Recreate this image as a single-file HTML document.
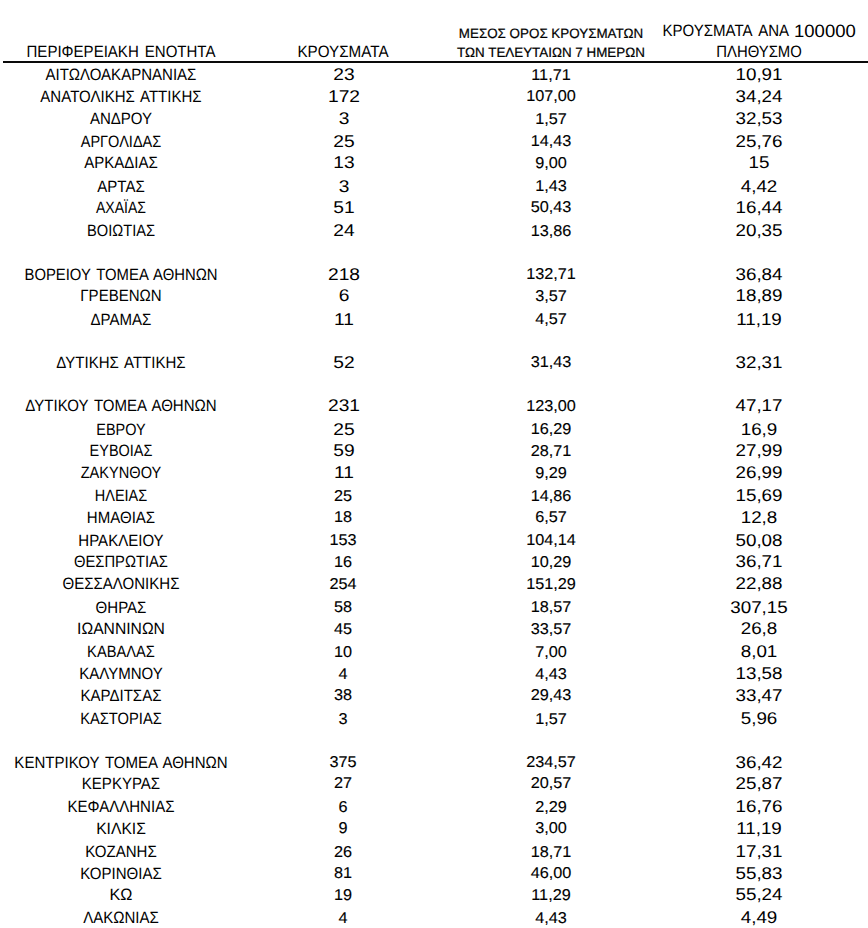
<!DOCTYPE html><html><head><meta charset="utf-8"><title>table</title><style>
html,body{margin:0;padding:0;background:#fff;}
body{width:868px;height:928px;position:relative;overflow:hidden;font-family:"Liberation Sans",sans-serif;color:#000;text-rendering:geometricPrecision;}
.t{position:absolute;white-space:nowrap;text-align:center;line-height:20px;height:20px;transform-origin:50% 50%;}
.a{left:0;width:242px;font-size:16.4px;transform:scaleX(.917);word-spacing:2px}
.bh{left:242.5px;width:200px;font-size:16.4px;transform:scaleX(.927);}
.b{left:243.5px;width:200px;font-size:17px;transform:scaleX(1.129);}
.b2{left:242.7px;width:200px;font-size:15.65px;transform:scaleX(1.039);-webkit-text-stroke:.12px #000}
.ch{left:451px;width:200px;font-size:13.6px;transform:scaleX(.985);-webkit-text-stroke:.2px #000}
.c{left:451px;width:200px;font-size:15.65px;transform:scaleX(1.039);-webkit-text-stroke:.12px #000}
.dh{left:659px;width:200px;font-size:16.4px;transform:scaleX(.907)}
.dl{right:79px;font-size:16.4px;transform:scaleX(.917);transform-origin:100% 50%;word-spacing:3.4px}
.dr{left:794.2px;font-size:17.8px;transform:scaleX(1.041);transform-origin:0 50%}
.d{left:659px;width:200px;font-size:17px;transform:scaleX(1.105);}
.rule{position:absolute;left:3px;top:60.8px;width:865px;height:2px;background:#0a0a0a;}
</style></head><body>
<div class="t a" style="top:42px">ΠΕΡΙΦΕΡΕΙΑΚΗ ΕΝΟΤΗΤΑ</div>
<div class="t bh" style="top:42px">ΚΡΟΥΣΜΑΤΑ</div>
<div class="t ch" style="top:24px">ΜΕΣΟΣ ΟΡΟΣ ΚΡΟΥΣΜΑΤΩΝ</div>
<div class="t ch" style="top:43px">ΤΩΝ ΤΕΛΕΥΤΑΙΩΝ 7 ΗΜΕΡΩΝ</div>
<div class="t dl" style="top:21px">ΚΡΟΥΣΜΑΤΑ ΑΝΑ</div><div class="t dr" style="top:21px">100000</div>
<div class="t dh" style="top:42px">ΠΛΗΘΥΣΜΟ</div>
<div class="rule"></div>
<div class="t a" style="top:65px">ΑΙΤΩΛΟΑΚΑΡΝΑΝΙΑΣ</div>
<div class="t b" style="top:65px">23</div>
<div class="t c" style="top:66px">11,71</div>
<div class="t d" style="top:65px">10,91</div>
<div class="t a" style="top:87px">ΑΝΑΤΟΛΙΚΗΣ ΑΤΤΙΚΗΣ</div>
<div class="t b" style="top:87px">172</div>
<div class="t c" style="top:87px">107,00</div>
<div class="t d" style="top:87px">34,24</div>
<div class="t a" style="top:109px">ΑΝΔΡΟΥ</div>
<div class="t b" style="top:109px">3</div>
<div class="t c" style="top:110px">1,57</div>
<div class="t d" style="top:109px">32,53</div>
<div class="t a" style="top:132px;transform:scaleX(0.886)">ΑΡΓΟΛΙΔΑΣ</div>
<div class="t b" style="top:132px">25</div>
<div class="t c" style="top:132px">14,43</div>
<div class="t d" style="top:132px">25,76</div>
<div class="t a" style="top:153px">ΑΡΚΑΔΙΑΣ</div>
<div class="t b" style="top:153px">13</div>
<div class="t c" style="top:154px">9,00</div>
<div class="t d" style="top:153px">15</div>
<div class="t a" style="top:177px">ΑΡΤΑΣ</div>
<div class="t b" style="top:177px">3</div>
<div class="t c" style="top:177px">1,43</div>
<div class="t d" style="top:177px">4,42</div>
<div class="t a" style="top:198px;transform:scaleX(0.856)">ΑΧΑΪΑΣ</div>
<div class="t b" style="top:198px">51</div>
<div class="t c" style="top:198px">50,43</div>
<div class="t d" style="top:198px">16,44</div>
<div class="t a" style="top:221px;transform:scaleX(0.895)">ΒΟΙΩΤΙΑΣ</div>
<div class="t b" style="top:221px">24</div>
<div class="t c" style="top:222px">13,86</div>
<div class="t d" style="top:221px">20,35</div>
<div class="t a" style="top:265px;transform:scaleX(0.906)">ΒΟΡΕΙΟΥ ΤΟΜΕΑ ΑΘΗΝΩΝ</div>
<div class="t b" style="top:265px">218</div>
<div class="t c" style="top:265px">132,71</div>
<div class="t d" style="top:265px">36,84</div>
<div class="t a" style="top:286px">ΓΡΕΒΕΝΩΝ</div>
<div class="t b" style="top:286px">6</div>
<div class="t c" style="top:287px">3,57</div>
<div class="t d" style="top:286px">18,89</div>
<div class="t a" style="top:310px">ΔΡΑΜΑΣ</div>
<div class="t b" style="top:310px">11</div>
<div class="t c" style="top:310px">4,57</div>
<div class="t d" style="top:310px">11,19</div>
<div class="t a" style="top:353px">ΔΥΤΙΚΗΣ ΑΤΤΙΚΗΣ</div>
<div class="t b" style="top:353px">52</div>
<div class="t c" style="top:353px">31,43</div>
<div class="t d" style="top:353px">32,31</div>
<div class="t a" style="top:396px">ΔΥΤΙΚΟΥ ΤΟΜΕΑ ΑΘΗΝΩΝ</div>
<div class="t b" style="top:396px">231</div>
<div class="t c" style="top:397px">123,00</div>
<div class="t d" style="top:396px">47,17</div>
<div class="t a" style="top:420px;transform:scaleX(0.882)">ΕΒΡΟΥ</div>
<div class="t b" style="top:420px">25</div>
<div class="t c" style="top:420px">16,29</div>
<div class="t d" style="top:420px">16,9</div>
<div class="t a" style="top:441px;transform:scaleX(0.883)">ΕΥΒΟΙΑΣ</div>
<div class="t b" style="top:441px">59</div>
<div class="t c" style="top:442px">28,71</div>
<div class="t d" style="top:441px">27,99</div>
<div class="t a" style="top:463px;transform:scaleX(0.891)">ΖΑΚΥΝΘΟΥ</div>
<div class="t b" style="top:463px">11</div>
<div class="t c" style="top:464px">9,29</div>
<div class="t d" style="top:463px">26,99</div>
<div class="t a" style="top:486px;transform:scaleX(0.884)">ΗΛΕΙΑΣ</div>
<div class="t b2" style="top:487px">25</div>
<div class="t c" style="top:487px">14,86</div>
<div class="t d" style="top:486px">15,69</div>
<div class="t a" style="top:508px">ΗΜΑΘΙΑΣ</div>
<div class="t b2" style="top:508px">18</div>
<div class="t c" style="top:508px">6,57</div>
<div class="t d" style="top:508px">12,8</div>
<div class="t a" style="top:531px">ΗΡΑΚΛΕΙΟΥ</div>
<div class="t b2" style="top:531px">153</div>
<div class="t c" style="top:531px">104,14</div>
<div class="t d" style="top:531px">50,08</div>
<div class="t a" style="top:552px;transform:scaleX(0.899)">ΘΕΣΠΡΩΤΙΑΣ</div>
<div class="t b2" style="top:553px">16</div>
<div class="t c" style="top:553px">10,29</div>
<div class="t d" style="top:552px">36,71</div>
<div class="t a" style="top:574px">ΘΕΣΣΑΛΟΝΙΚΗΣ</div>
<div class="t b2" style="top:575px">254</div>
<div class="t c" style="top:575px">151,29</div>
<div class="t d" style="top:574px">22,88</div>
<div class="t a" style="top:598px">ΘΗΡΑΣ</div>
<div class="t b2" style="top:598px">58</div>
<div class="t c" style="top:598px">18,57</div>
<div class="t d" style="top:598px">307,15</div>
<div class="t a" style="top:619px;transform:scaleX(0.956)">ΙΩΑΝΝΙΝΩΝ</div>
<div class="t b2" style="top:620px">45</div>
<div class="t c" style="top:620px">33,57</div>
<div class="t d" style="top:619px">26,8</div>
<div class="t a" style="top:642px;transform:scaleX(0.895)">ΚΑΒΑΛΑΣ</div>
<div class="t b2" style="top:643px">10</div>
<div class="t c" style="top:643px">7,00</div>
<div class="t d" style="top:642px">8,01</div>
<div class="t a" style="top:664px">ΚΑΛΥΜΝΟΥ</div>
<div class="t b2" style="top:665px">4</div>
<div class="t c" style="top:665px">4,43</div>
<div class="t d" style="top:664px">13,58</div>
<div class="t a" style="top:686px">ΚΑΡΔΙΤΣΑΣ</div>
<div class="t b2" style="top:686px">38</div>
<div class="t c" style="top:686px">29,43</div>
<div class="t d" style="top:686px">33,47</div>
<div class="t a" style="top:709px;transform:scaleX(0.897)">ΚΑΣΤΟΡΙΑΣ</div>
<div class="t b2" style="top:710px">3</div>
<div class="t c" style="top:710px">1,57</div>
<div class="t d" style="top:709px">5,96</div>
<div class="t a" style="top:753px">ΚΕΝΤΡΙΚΟΥ ΤΟΜΕΑ ΑΘΗΝΩΝ</div>
<div class="t b2" style="top:753px">375</div>
<div class="t c" style="top:753px">234,57</div>
<div class="t d" style="top:753px">36,42</div>
<div class="t a" style="top:774px">ΚΕΡΚΥΡΑΣ</div>
<div class="t b2" style="top:774px">27</div>
<div class="t c" style="top:774px">20,57</div>
<div class="t d" style="top:774px">25,87</div>
<div class="t a" style="top:797px">ΚΕΦΑΛΛΗΝΙΑΣ</div>
<div class="t b2" style="top:798px">6</div>
<div class="t c" style="top:798px">2,29</div>
<div class="t d" style="top:797px">16,76</div>
<div class="t a" style="top:819px;transform:scaleX(0.954)">ΚΙΛΚΙΣ</div>
<div class="t b2" style="top:819px">9</div>
<div class="t c" style="top:819px">3,00</div>
<div class="t d" style="top:819px">11,19</div>
<div class="t a" style="top:842px">ΚΟΖΑΝΗΣ</div>
<div class="t b2" style="top:843px">26</div>
<div class="t c" style="top:843px">18,71</div>
<div class="t d" style="top:842px">17,31</div>
<div class="t a" style="top:864px">ΚΟΡΙΝΘΙΑΣ</div>
<div class="t b2" style="top:864px">81</div>
<div class="t c" style="top:864px">46,00</div>
<div class="t d" style="top:864px">55,83</div>
<div class="t a" style="top:885px;transform:scaleX(0.990)">ΚΩ</div>
<div class="t b2" style="top:886px">19</div>
<div class="t c" style="top:886px">11,29</div>
<div class="t d" style="top:885px">55,24</div>
<div class="t a" style="top:908px">ΛΑΚΩΝΙΑΣ</div>
<div class="t b2" style="top:909px">4</div>
<div class="t c" style="top:909px">4,43</div>
<div class="t d" style="top:908px">4,49</div>
</body></html>
